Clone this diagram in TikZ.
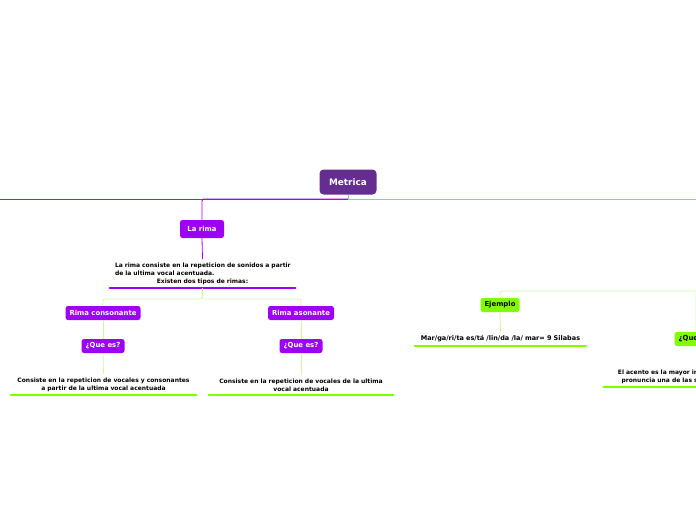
\documentclass[tikz,border=0pt]{standalone}
\usepackage{fontspec}
\setmainfont{DejaVu Sans}
\usepackage{tikz}
\usetikzlibrary{positioning}

\definecolor{metricaviolet}{RGB}{102,45,145}
\definecolor{rimaviolet}{RGB}{158,0,245}
\definecolor{limegreen}{RGB}{128,255,0}
\definecolor{palegreen}{RGB}{205,250,160}
\definecolor{trunkgreen}{RGB}{140,225,50}
\definecolor{trunkblue}{RGB}{0,95,255}

\begin{document}
\begin{tikzpicture}[x=1pt, y=-1pt,
    topic/.style={rounded corners=2.5pt, inner sep=0pt, minimum height=14pt,
        font=\bfseries\fontsize{6.9}{8}\selectfont},
    violetbox/.style={topic, fill=rimaviolet, text=white},
    limebox/.style={topic, fill=limegreen, text=black},
    note/.style={inner xsep=0pt, inner ysep=3.5pt, anchor=south, align=center,
        font=\bfseries\fontsize{6}{8}\selectfont},
    underviolet/.style={line width=2.6pt, rimaviolet, line cap=round},
    underlime/.style={line width=2.6pt, limegreen, line cap=round},
    link/.style={line width=0.8pt, palegreen, rounded corners=2pt}]
    \useasboundingbox (0,0) rectangle (696,520);
    \clip (0,0) rectangle (696,520);

    % central topic
    \node (metrica) at (348,182) [topic, fill=metricaviolet, text=white,
        minimum width=57pt, minimum height=25pt, rounded corners=4pt,
        font=\bfseries\fontsize{8.9}{10}\selectfont] {Metrica};
    \coordinate (trunk) at (348,199);
    \coordinate (leftend) at (-20,199);
    \coordinate (rightend) at (720,199);
    \draw[line width=0.9pt, trunkblue] (trunk) -- (leftend);
    \draw[line width=0.9pt, trunkgreen] (metrica.south) -- (trunk) -- (rightend);

    % left branch: la rima
    \node (larima) at (202,229) [violetbox, minimum width=44pt, minimum height=18pt] {La rima};
    \draw[line width=0.9pt, rimaviolet, rounded corners=2pt] (trunk) -| (larima.north);

    \node (rimadef) at (202.5,288) [note, text width=185pt, align=left] {%
        \hspace*{5pt}La rima consiste en la repeticion de sonidos a partir\\
        \hspace*{5pt}de la ultima vocal acentuada.\par
        {\centering Existen dos tipos de rimas:\par}};
    \draw[line width=0.8pt, rimaviolet] (larima.south) -- (rimadef.north);
    \draw[underviolet] (rimadef.south west) -- (rimadef.south east);

    \node (consonante) at (103,313) [violetbox, minimum width=75pt] {Rima consonante};
    \node (asonante) at (301,313) [violetbox, minimum width=66pt] {Rima asonante};
    \coordinate (rimafork) at (202.5,299);
    \draw[link] (rimadef.south) -- (rimafork) -| (consonante.north);
    \draw[link] (rimafork) -| (asonante.north);

    \node (queconso) at (103,346) [violetbox, minimum width=43pt] {¿Que es?};
    \node (queaso) at (301,346) [violetbox, minimum width=43pt] {¿Que es?};
    \draw[link] (consonante.south) -- (queconso.north);
    \draw[link] (asonante.south) -- (queaso.north);

    \node (consodef) at (103.5,395) [note, text width=185pt] {Consiste en la repeticion de vocales y consonantes\\
        a partir de la ultima vocal acentuada};
    \node (asodef) at (301,395) [note, text width=184pt] {Consiste en la repeticion de vocales de la ultima\\
        vocal acentuada};
    \draw[link] (queconso.south) -- (consodef.north);
    \draw[link] (queaso.south) -- (asodef.north);
    \draw[underlime] (consodef.south west) -- (consodef.south east);
    \draw[underlime] (asodef.south west) -- (asodef.south east);

    % right branch
    \coordinate (acentofork) at (730,291);
    \node (ejemplo) at (500,305) [limebox, minimum width=39pt] {Ejemplo};
    \node (queacento) at (696,339) [limebox, minimum width=43pt] {¿Que es?};
    \draw[link] (acentofork) -| (ejemplo.north);
    \draw[link] (acentofork) -| (queacento.north);

    \node (ejemplodef) at (500.5,346) [note, text width=171pt,
        font=\bfseries\fontsize{6.5}{8}\selectfont] {Mar/ga/ri/ta es/tá /lin/da /la/ mar= 9 Silabas};
    \draw[link] (ejemplo.south) -- (ejemplodef.north);
    \draw[underlime] (ejemplodef.south west) -- (ejemplodef.south east);

    \node (acentodef) at (696,387) [note, text width=184pt] {El acento es la mayor intensidad con la que se\\
        pronuncia una de las silabas de una palabra};
    \draw[link] (queacento.south) -- (acentodef.north);
    \draw[underlime] (acentodef.south west) -- (acentodef.south east);
\end{tikzpicture}
\end{document}
